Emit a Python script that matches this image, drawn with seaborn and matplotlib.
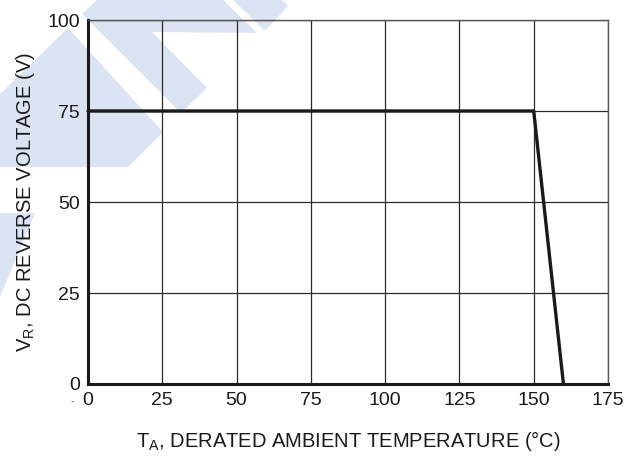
import matplotlib
matplotlib.use("Agg")
import matplotlib.pyplot as plt
from matplotlib.patches import Polygon
import seaborn as sns
import pandas as pd

# Derating curve: reverse voltage vs ambient temperature
temperature_c = [0, 150, 160]
reverse_voltage_v = [75, 75, 0]

x_ticks = [0, 25, 50, 75, 100, 125, 150, 175]
y_ticks = [0, 25, 50, 75, 100]

sns.set_theme(style="white")
plt.rcParams["font.family"] = ["Liberation Sans", "DejaVu Sans"]
plt.rcParams["mathtext.fontset"] = "custom"
plt.rcParams["mathtext.rm"] = "Liberation Sans"

W, H = 632, 461
fig = plt.figure(figsize=(W / 100, H / 100), dpi=100)
ax = fig.add_axes([88 / W, 1 - 384 / H, 520 / W, 364 / H])
ax.set_facecolor("none")

# light blue logo stripes in the background (pixel outlines)
logo_shapes = [
    [(97, 0), (223, 0), (257, 33), (152, 32), (207, 88), (181, 113), (82, 14)],
    [(233, 0), (282, 0), (288, 6), (265, 31)],
    [(0, 94), (68, 28), (163, 132), (128, 167), (0, 167)],
    [(0, 213), (35, 213), (0, 297)],
]
for shape in logo_shapes:
    pts = [(px / W, 1 - py / H) for px, py in shape]
    fig.patches.append(Polygon(pts, closed=True, transform=fig.transFigure,
                               facecolor="#dbe4f3", edgecolor="none", zorder=-5))

df = pd.DataFrame({"temp": temperature_c, "volt": reverse_voltage_v})
sns.lineplot(data=df, x="temp", y="volt", ax=ax, color="#1a1a1a",
             linewidth=2.4, zorder=5, clip_on=False)

ax.set_xlim(0, 175)
ax.set_ylim(0, 100)
ax.set_xticks(x_ticks)
ax.set_yticks(y_ticks)
ax.set_xticklabels([str(v) for v in x_ticks])
ax.set_yticklabels([str(v) for v in y_ticks])
ax.tick_params(axis="both", length=0, labelsize=14, colors="#1a1a1a")
ax.tick_params(axis="x", pad=6)
ax.tick_params(axis="y", pad=6)

ax.grid(True, color="#2a2a2a", linewidth=0.9)
for side in ["left", "bottom"]:
    ax.spines[side].set_linewidth(2.2)
    ax.spines[side].set_color("#1a1a1a")
for side in ["top", "right"]:
    ax.spines[side].set_linewidth(1.0)
    ax.spines[side].set_color("#555555")
    ax.spines[side].set_visible(True)

ax.set_xlabel(r"T$_\mathregular{A}$, DERATED AMBIENT TEMPERATURE (°C)",
              fontsize=14.5, color="#1a1a1a", labelpad=14)
ax.set_ylabel(r"V$_\mathregular{R}$, DC REVERSE VOLTAGE (V)",
              fontsize=14.5, color="#1a1a1a", labelpad=7)

fig.text(72 / W, 1 - 401 / H, "-", fontsize=8, color="#555555",
         ha="center", va="center")

fig.savefig("out.png", dpi=100)
